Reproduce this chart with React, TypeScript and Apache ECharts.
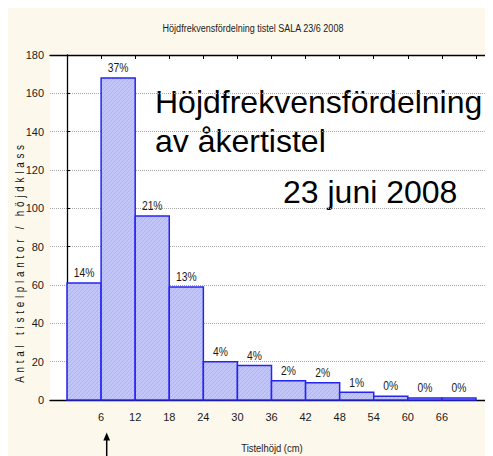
import React, { useEffect, useRef } from "react";
import * as echarts from "echarts";

const classStart = [0, 6, 12, 18, 24, 30, 36, 42, 48, 54, 60, 66];
const classWidth = 6;
const counts = [61, 168, 96, 59, 20, 18, 10, 9, 4, 2, 1, 1];
const percentLabels = ["14%", "37%", "21%", "13%", "4%", "4%", "2%", "2%", "1%", "0%", "0%", "0%"];
const xTickLabels = [6, 12, 18, 24, 30, 36, 42, 48, 54, 60, 66];
const xTopTicks = [0, 6, 12, 18, 24, 30, 36, 42, 48, 54, 60, 66, 72];
const xMin = -3;
const xMax = 75;
const yMin = 0;
const yMax = 180;
const yStep = 20;
const chartTitle = "Höjdfrekvensfördelning tistel SALA 23/6 2008";
const noteLine1 = "Höjdfrekvensfördelning";
const noteLine2 = "av åkertistel";
const noteDate = "23 juni 2008";
const xName = "Tistelhöjd (cm)";
const yName = "Antal tistelplantor / höjdklass";

const ARIAL = "'Liberation Sans', Arial, sans-serif";
const TXT = "#1a1a1a";
const NARROW_SCALE = 0.82;

function makeHatch(): HTMLCanvasElement {
  const c = document.createElement("canvas");
  c.width = 4;
  c.height = 4;
  const ctx = c.getContext("2d")!;
  ctx.fillStyle = "#c2c5f8";
  ctx.fillRect(0, 0, 4, 4);
  ctx.fillStyle = "#afb2f3";
  ctx.fillRect(3, 0, 1, 1);
  ctx.fillRect(2, 1, 1, 1);
  ctx.fillRect(1, 2, 1, 1);
  ctx.fillRect(0, 3, 1, 1);
  return c;
}

export default function App() {
  const ref = useRef<HTMLDivElement>(null);
  useEffect(() => {
    if (!ref.current) return;
    const chart = echarts.init(ref.current, undefined, { renderer: "svg" });
    const hatch = makeHatch();
    const data = classStart.map((s, i) => [s, s + classWidth, counts[i], i]);
    const option: any = {
      animation: false,
      backgroundColor: "#fdf8ec",
      grid: { left: 42, top: 47, right: -1, bottom: 56, show: true, backgroundColor: "#ffffff", borderWidth: 0 },
      xAxis: [
        {
          type: "value",
          min: xMin,
          max: xMax,
          position: "bottom",
          axisLine: { show: true, onZero: false, lineStyle: { color: "#000", width: 1.3 } },
          axisTick: { show: false },
          axisLabel: {
            customValues: xTickLabels,
            fontFamily: ARIAL,
            fontSize: 11,
            color: TXT,
            margin: 11,
          },
          splitLine: { show: false },
        },
        {
          type: "value",
          min: xMin,
          max: xMax,
          position: "top",
          axisLine: { show: true, onZero: false, lineStyle: { color: "#000", width: 1.3 } },
          axisTick: { show: true, inside: true, length: 4, customValues: xTopTicks, lineStyle: { color: "#000" } },
          axisLabel: { show: false },
          splitLine: { show: false },
        },
      ],
      yAxis: {
        type: "value",
        min: yMin,
        max: yMax,
        interval: yStep,
        axisLine: { show: true, lineStyle: { color: "#000", width: 1.3 } },
        axisTick: { show: true, inside: true, length: 3, lineStyle: { color: "#000" } },
        axisLabel: { fontFamily: ARIAL, fontSize: 11, color: TXT, margin: 6 },
        splitLine: { show: true, lineStyle: { color: "#a8a8a8", type: "dotted", width: 1 } },
      },
      series: [
        {
          type: "custom",
          xAxisIndex: 0,
          encode: { x: [0, 1], y: 2 },
          data,
          renderItem: (params: any, api: any) => {
            const idx = api.value(3);
            const topLeft = api.coord([api.value(0), api.value(2)]);
            const bottomRight = api.coord([api.value(1), 0]);
            const w = bottomRight[0] - topLeft[0];
            return {
              type: "group",
              children: [
                {
                  type: "rect",
                  shape: { x: topLeft[0], y: topLeft[1], width: w, height: bottomRight[1] - topLeft[1] },
                  style: {
                    fill: { image: hatch, repeat: "repeat" },
                    stroke: "#2525f2",
                    lineWidth: 1.5,
                  },
                },
                {
                  type: "text",
                  x: topLeft[0] + w / 2,
                  y: topLeft[1] - 4,
                  scaleX: 0.86,
                  style: {
                    text: percentLabels[idx],
                    fontFamily: ARIAL,
                    fontSize: 12,
                    fill: TXT,
                    align: "center",
                    verticalAlign: "bottom",
                  },
                },
              ],
            };
          },
        },
      ],
      graphic: [
        {
          type: "text",
          x: 245,
          y: 20,
          scaleX: NARROW_SCALE,
          style: { text: chartTitle, fontFamily: ARIAL, fontSize: 11, fill: TXT, align: "center", verticalAlign: "middle" },
        },
        {
          type: "text",
          x: 147,
          y: 94,
          style: { text: noteLine1, fontFamily: ARIAL, fontSize: 32, fill: "#000", align: "left", verticalAlign: "middle" },
        },
        {
          type: "text",
          x: 147,
          y: 132.5,
          style: { text: noteLine2, fontFamily: ARIAL, fontSize: 32, fill: "#000", align: "left", verticalAlign: "middle" },
        },
        {
          type: "text",
          x: 275,
          y: 183.5,
          style: { text: noteDate, fontFamily: ARIAL, fontSize: 32, fill: "#000", align: "left", verticalAlign: "middle" },
        },
        {
          type: "text",
          x: 264,
          y: 440,
          scaleX: NARROW_SCALE,
          style: { text: xName, fontFamily: ARIAL, fontSize: 11.5, fill: TXT, align: "center", verticalAlign: "middle" },
        },
        {
          type: "text",
          x: 12,
          y: 254,
          rotation: Math.PI / 2,
          scaleX: NARROW_SCALE,
          style: { text: yName, fontFamily: ARIAL, fontSize: 12, fill: "#111", align: "center", verticalAlign: "middle" },
        },
        {
          type: "line",
          shape: { x1: 98.7, y1: 430, x2: 98.7, y2: 448 },
          style: { stroke: "#000", lineWidth: 1.5 },
        },
        {
          type: "polygon",
          shape: { points: [[98.7, 424.5], [95.3, 432.5], [102.1, 432.5]] },
          style: { fill: "#000" },
        },
      ],
    };
    chart.setOption(option);
    ref.current.querySelectorAll("text").forEach((t) => {
      if (t.textContent === yName) t.setAttribute("letter-spacing", "4.6");
    });
    return () => chart.dispose();
  }, []);
  return <div ref={ref} style={{ width: 485, height: 448 }} />;
}
